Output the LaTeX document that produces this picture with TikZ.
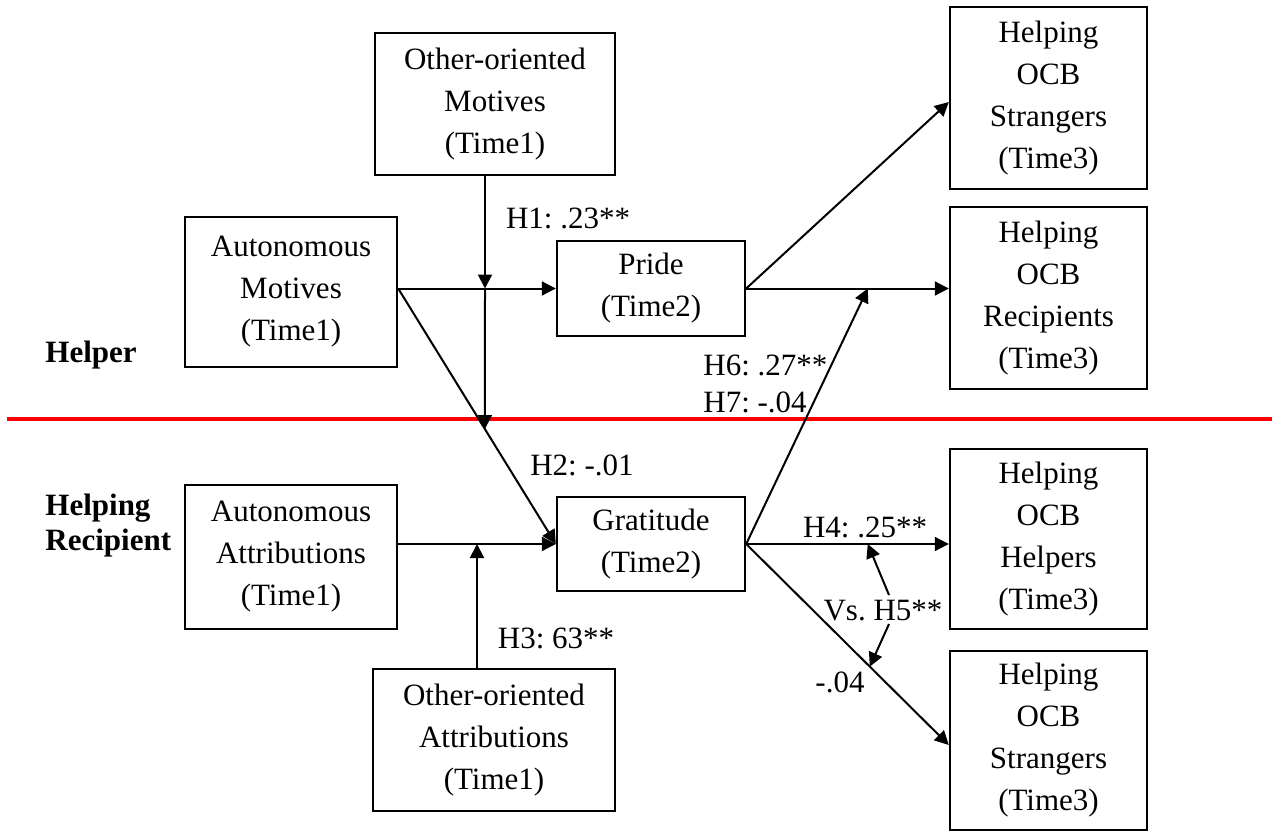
\documentclass[tikz,border=0pt]{standalone}
\usepackage{fontspec}
\setmainfont{Liberation Serif}
\usetikzlibrary{arrows.meta,calc}
\begin{document}
\frenchspacing
\begin{tikzpicture}[x=0.5pt,y=-0.5pt,
  box/.style={draw,line width=1.2pt,align=center,inner sep=0pt,font=\fontsize{15.5pt}{21pt}\selectfont},
  arr/.style={line width=1pt,-{Triangle[length=7pt,width=7pt]}},
  lab/.style={inner sep=0pt,font=\fontsize{15.5pt}{21pt}\selectfont},
  grp/.style={inner sep=0pt,align=left,font=\fontsize{15.5pt}{17.5pt}\selectfont\bfseries}]
\useasboundingbox (0,0) rectangle (1272,834);

% boxes
\node[box,minimum width=120pt,minimum height=71pt] (OOM) at (495,104) {Other-oriented\\Motives\\(Time1)};
\node[box,minimum width=106pt,minimum height=75pt] (AM) at (291,292) {Autonomous\\Motives\\(Time1)};
\node[box,minimum width=94pt,minimum height=47.5pt] (Pride) at (651,288.5) {Pride\\(Time2)};
\node[box,minimum width=94pt,minimum height=47pt] (Gra) at (651,544) {Gratitude\\(Time2)};
\node[box,minimum width=106pt,minimum height=72pt] (AA) at (291,557) {Autonomous\\Attributions\\(Time1)};
\node[box,minimum width=121pt,minimum height=71pt] (OOA) at (494,740) {Other-oriented\\Attributions\\(Time1)};
\node[box,minimum width=98.5pt,minimum height=91pt] (StrT) at (1048.5,98) {Helping\\OCB\\Strangers\\(Time3)};
\node[box,minimum width=98.5pt,minimum height=91pt] (Rec) at (1048.5,298) {Helping\\OCB\\Recipients\\(Time3)};
\node[box,minimum width=98.5pt,minimum height=90pt] (Hel) at (1048.5,539) {Helping\\OCB\\Helpers\\(Time3)};
\node[box,minimum width=98.5pt,minimum height=89.5pt] (StrB) at (1048.5,740.5) {Helping\\OCB\\Strangers\\(Time3)};

% group labels and divider
\node[grp,anchor=west] (helper) at (45,355) {Helper};
\node[grp,anchor=west] (recip) at (45,526) {Helping\\Recipient};
\coordinate (rl) at (7,419);
\coordinate (rr) at (1272,419);
\draw[red,line width=1.6pt] (rl) -- (rr);

% helper paths
\coordinate (amS) at (AM.east |- Pride.west);
\coordinate (m1) at (485,288.5);
\draw[arr] (amS) -- (Pride.west);
\draw[arr] (m1 |- OOM.south) -- (m1);
\path (amS) -- (Gra.west) coordinate[pos=0.55] (m2);
\draw[arr] (amS) -- (Gra.west);
\draw[arr] (m1) -- (m2);

% recipient paths
\coordinate (aaS) at (AA.east |- Gra.west);
\coordinate (m3) at (477,544);
\draw[arr] (aaS) -- (Gra.west);
\draw[arr] (m3 |- OOA.north) -- (m3);

% outcomes of pride
\draw[arr] (Pride.east) -- ($(StrT.west)+(0,4)$);
\coordinate (recW) at (Rec.west |- Pride.east);
\draw[arr] (Pride.east) -- (recW);
\path (Pride.east) -- (recW) coordinate[pos=0.6] (m4);
\draw[arr] (Gra.east) -- (m4);

% outcomes of gratitude
\coordinate (helW) at (Hel.west |- Gra.east);
\coordinate (strW) at ($(StrB.west)+(0,4.5)$);
\draw[arr] (Gra.east) -- (helW);
\draw[arr] (Gra.east) -- (strW);
\path (Gra.east) -- (helW) coordinate[pos=0.6] (m5);
\path (Gra.east) -- (strW) coordinate[pos=0.61] (m6);

% labels
\node[lab] (h1) at (568,218) {H1: .23**};
\node[lab] (h2) at (582,465) {H2: -.01};
\node[lab] (h3) at (556,638) {H3: 63**};
\node[lab,anchor=west] (h6) at (703,365) {H6: .27**};
\node[lab,anchor=west] (h7) at (703,402) {H7: -.04};
\node[lab] (h4) at (865,527) {H4: .25**};
\node[lab] (h5) at (883,611) {Vs. H5**};
\node[lab] (n04) at (840,682) {-.04};

\coordinate (v1) at (889,595);
\coordinate (v2) at (889,624);
\draw[arr] (v1) -- (m5);
\draw[arr] (v2) -- (m6);
\end{tikzpicture}
\end{document}
